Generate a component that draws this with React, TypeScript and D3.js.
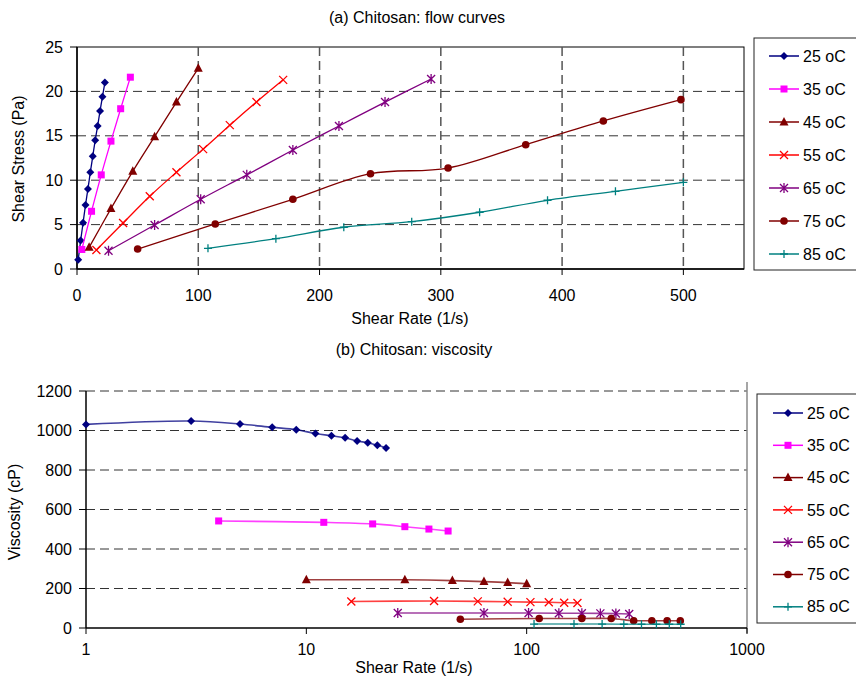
// App.tsx
// Chitosan flow curves and viscosity, two Excel-style panels drawn with D3
import React from "react";
import * as d3 from "d3";

const temps = ["25 oC", "35 oC", "45 oC", "55 oC", "65 oC", "75 oC", "85 oC"];
const colors = ["#000080", "#ff00ff", "#800000", "#ff0000", "#800080", "#800000", "#008080"];
const markers = ["diamond", "square", "triangle", "x", "star", "circle", "plus"];

// shear rate (1/s) per temperature
const rate25 = [1, 3, 5, 7, 9, 11, 13, 15, 17, 19, 21, 23];
const rate35 = [4, 12, 20, 28, 36, 44];
const rate45 = [10, 28, 46, 64, 82, 100];
const rate55 = [16, 38, 60, 82, 104, 126, 148, 170];
const rate65 = [26, 64, 102, 140, 178, 216, 254, 292];
const rate75 = [50, 114, 178, 242, 306, 370, 434, 498];
const rate85 = [108, 164, 220, 276, 332, 388, 444, 500];

// shear stress (Pa)
const stress25 = [1.05, 3.2, 5.2, 7.2, 9.0, 10.9, 12.7, 14.5, 16.1, 17.8, 19.4, 21.0];
const stress35 = [2.2, 6.5, 10.6, 14.4, 18.05, 21.6];
const stress45 = [2.44, 6.8, 11.0, 14.9, 18.8, 22.6];
const stress55 = [2.14, 5.18, 8.19, 10.9, 13.5, 16.2, 18.8, 21.3];
const stress65 = [2.06, 4.95, 7.85, 10.6, 13.4, 16.1, 18.8, 21.4];
const stress75 = [2.25, 5.07, 7.85, 10.73, 11.37, 14.0, 16.67, 19.07];
const stress85 = [2.33, 3.41, 4.7, 5.33, 6.39, 7.74, 8.75, 9.76];

// viscosity (cP)
const visc25 = [1031, 1048, 1033, 1016, 1004, 985, 973, 963, 947, 938, 925, 912];
const visc35 = [542, 535, 527, 513, 501, 491];
const visc45 = [244, 244, 240, 235, 230, 224];
const visc55 = [134, 137, 135, 133, 131, 130, 128, 127];
const visc65 = [76, 76, 76, 75, 75, 74, 73, 71];
const visc75 = [44, 48, 48, 48, 37, 37, 37, 37];
const visc85 = [20, 20, 20, 19, 19, 19, 19, 19];

const rates = [rate25, rate35, rate45, rate55, rate65, rate75, rate85];
const stresses = [stress25, stress35, stress45, stress55, stress65, stress75, stress85];
const viscs = [visc25, visc35, visc45, visc55, visc65, visc75, visc85];

const stressTicks = [0, 5, 10, 15, 20, 25];
const rateTicks = [0, 100, 200, 300, 400, 500];
const viscTicks = [0, 200, 400, 600, 800, 1000, 1200];
const logTicks = [1, 10, 100, 1000];

const FONT = "'Liberation Sans', Arial, sans-serif";
const GRID = "#333";

function Marker({ type, x, y, color }: { type: string; x: number; y: number; color: string }) {
  const r = 4;
  if (type === "diamond")
    return <path d={`M${x},${y - r}L${x + r},${y}L${x},${y + r}L${x - r},${y}Z`} fill={color} />;
  if (type === "square")
    return <rect x={x - 3.5} y={y - 3.5} width={7} height={7} fill={color} />;
  if (type === "triangle")
    return <path d={`M${x},${y - 5}L${x + 4.5},${y + 3.5}L${x - 4.5},${y + 3.5}Z`} fill={color} />;
  if (type === "circle") return <circle cx={x} cy={y} r={3.8} fill={color} />;
  const xs = `M${x - r},${y - r}L${x + r},${y + r}M${x - r},${y + r}L${x + r},${y - r}`;
  let d = xs;
  if (type === "star") d = xs + `M${x},${y - r - 1}L${x},${y + r + 1}`;
  if (type === "plus") d = `M${x - r},${y}L${x + r},${y}M${x},${y - r}L${x},${y + r}`;
  return <path d={d} stroke={color} strokeWidth={1.3} fill="none" />;
}

function Legend({ x, y, w, h, first, step, lineX }: any) {
  return (
    <g>
      <rect x={x} y={y} width={w} height={h} fill="#fff" stroke="#222" strokeWidth={1} />
      {temps.map((t, i) => {
        const yy = first + i * step;
        return (
          <g key={t}>
            <line x1={lineX} x2={lineX + 30} y1={yy} y2={yy} stroke={colors[i]} strokeWidth={1.5} />
            <Marker type={markers[i]} x={lineX + 15} y={yy} color={colors[i]} />
            <text x={lineX + 34} y={yy} dy="0.35em" fontSize={16}>{t}</text>
          </g>
        );
      })}
    </g>
  );
}

export default function App() {
  // panel (a)
  const ax = d3.scaleLinear().domain([0, 550]).range([77, 744]);
  const ay = d3.scaleLinear().domain([0, 25]).range([269, 47]);
  // panel (b)
  const bx = d3.scaleLog().domain([1, 1000]).range([86, 747]);
  const by = d3.scaleLinear().domain([0, 1200]).range([628, 391]);

  const lineA = d3.line<[number, number]>()
    .x((d) => ax(d[0]))
    .y((d) => ay(d[1]))
    .curve(d3.curveCatmullRom.alpha(0.5));
  const lineB = d3.line<[number, number]>()
    .x((d) => bx(d[0]))
    .y((d) => by(d[1]))
    .curve(d3.curveCatmullRom.alpha(0.5));

  return (
    <svg width={856} height={677} style={{ position: "absolute", left: 0, top: 0, background: "#fff" }}
      fontFamily={FONT} fill="#000">
      {/* ---------- (a) flow curves ---------- */}
      <text x={417} y={23} fontSize={16} textAnchor="middle">(a) Chitosan: flow curves</text>
      <rect x={77} y={47} width={667} height={222} fill="none" stroke="#000" strokeWidth={1} />
      {stressTicks.slice(1, -1).map((t) => (
        <line key={t} x1={77} x2={744} y1={ay(t)} y2={ay(t)} stroke={GRID} strokeDasharray="9,5" />
      ))}
      {rateTicks.slice(1).map((t) => (
        <line key={t} x1={ax(t)} x2={ax(t)} y1={47} y2={269} stroke="#555" strokeWidth={1.5} strokeDasharray="9,5" />
      ))}
      <line x1={77} x2={77} y1={47} y2={269} stroke="#000" strokeWidth={1.5} />
      <line x1={77} x2={744} y1={269} y2={269} stroke="#000" strokeWidth={1.5} />
      {stressTicks.map((t) => (
        <g key={t}>
          <line x1={70} x2={77} y1={ay(t)} y2={ay(t)} stroke="#000" />
          <text x={63} y={ay(t)} dy="0.35em" fontSize={16} textAnchor="end">{t}</text>
        </g>
      ))}
      {rateTicks.map((t) => (
        <g key={t}>
          <line x1={ax(t)} x2={ax(t)} y1={269} y2={275} stroke="#000" />
          <text x={ax(t)} y={301} fontSize={16} textAnchor="middle">{t}</text>
        </g>
      ))}
      <text x={410} y={324} fontSize={16} textAnchor="middle">Shear Rate (1/s)</text>
      <text transform="translate(24,159) rotate(-90)" fontSize={16} textAnchor="middle">Shear Stress (Pa)</text>
      {temps.map((t, i) => {
        const pts = rates[i].map((r, j) => [r, stresses[i][j]] as [number, number]);
        return (
          <g key={t}>
            <path d={lineA(pts) || ""} fill="none" stroke={colors[i]} strokeWidth={1.3} />
            {pts.map((p, j) => (
              <Marker key={j} type={markers[i]} x={ax(p[0])} y={ay(p[1])} color={colors[i]} />
            ))}
          </g>
        );
      })}
      <Legend x={754} y={38} w={104} h={232} first={56} step={33} lineX={769} />

      {/* ---------- (b) viscosity ---------- */}
      <text x={414} y={355} fontSize={16} textAnchor="middle">(b) Chitosan: viscosity</text>
      {viscTicks.slice(1).map((t) => (
        <line key={t} x1={86} x2={747} y1={by(t)} y2={by(t)} stroke={GRID} strokeDasharray="9,5" />
      ))}
      <line x1={747} x2={747} y1={382} y2={633} stroke="#888" strokeWidth={1.5} />
      <line x1={86} x2={86} y1={391} y2={628} stroke="#000" strokeWidth={1.5} />
      <line x1={86} x2={747} y1={628} y2={628} stroke="#000" strokeWidth={1.5} />
      {viscTicks.map((t) => (
        <g key={t}>
          <line x1={79} x2={86} y1={by(t)} y2={by(t)} stroke="#000" />
          <text x={72} y={by(t)} dy="0.35em" fontSize={16} textAnchor="end">{t}</text>
        </g>
      ))}
      {logTicks.map((t) => (
        <g key={t}>
          <line x1={bx(t)} x2={bx(t)} y1={628} y2={634} stroke="#000" />
          <text x={bx(t)} y={655} fontSize={16} textAnchor="middle">{t}</text>
        </g>
      ))}
      <text x={414} y={673} fontSize={16} textAnchor="middle">Shear Rate (1/s)</text>
      <text transform="translate(20,512) rotate(-90)" fontSize={16} textAnchor="middle">Viscosity (cP)</text>
      {temps.map((t, i) => {
        const pts = rates[i].map((r, j) => [r, viscs[i][j]] as [number, number]);
        return (
          <g key={t}>
            <path d={lineB(pts) || ""} fill="none" stroke={colors[i]} strokeWidth={1.6} strokeOpacity={0.75} />
            {pts.map((p, j) => (
              <Marker key={j} type={markers[i]} x={bx(p[0])} y={by(p[1])} color={colors[i]} />
            ))}
          </g>
        );
      })}
      <Legend x={757} y={394} w={101} h={229} first={413} step={32.3} lineX={773} />
    </svg>
  );
}
